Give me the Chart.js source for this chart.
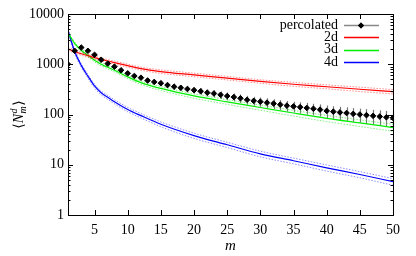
<!DOCTYPE html>
<html>
<head>
<meta charset="utf-8">
<script src="https://cdn.jsdelivr.net/npm/chart.js@4.4.0/dist/chart.umd.min.js"></script>
<style>
  html, body { margin: 0; padding: 0; background: #fff; }
  #wrap { width: 416px; height: 256px; }
</style>
</head>
<body>
<div id="wrap"><canvas id="chart" width="416" height="256"></canvas></div>
<script>
// percolated averages, m = 1..50
const mPerc = [1,2,3,4,5,6,7,8,9,10,11,12,13,14,15,16,17,18,19,20,21,22,23,24,25,
               26,27,28,29,30,31,32,33,34,35,36,37,38,39,40,41,42,43,44,45,46,47,48,49,50];
const percolated = [1000,1850,2150,1850,1540,1230,1030,895,760,660,585,540,475,445,420,385,358,340,322,305,
                    290,272,262,246,233,222,210,196,187,180,172,165,157,150,145,140,135,130,125,118,
                    114,110,107,103,100,97,94,91,88,86];
// relative error of each percolated point
const percErr = [0.02,0.03,0.03,0.03,0.04,0.05,0.05,0.06,0.07,0.08,0.08,0.09,0.1,0.1,0.11,0.12,0.12,0.13,0.14,0.14,
                 0.15,0.16,0.16,0.17,0.18,0.18,0.19,0.2,0.2,0.21,0.22,0.22,0.23,0.24,0.24,0.25,0.26,0.26,0.27,0.28,
                 0.28,0.29,0.3,0.3,0.31,0.32,0.32,0.33,0.34,0.34];

// lattice curves, read at these m
const mFit = [1,2,3,4,5,6,7,8,10,12,15,20,25,30,35,40,45,50];
const fit2d = [2000,1800,1620,1480,1350,1250,1160,1080,940,820,715,615,530,455,400,357,318,285];
const fit3d = [4200,2600,1900,1500,1200,1000,870,760,560,430,330,234,178,138,107,84,68,55];
const fit4d = [4700,1800,950,580,370,270,220,180,126,95,64,38,25,16.5,12,8.7,6.4,4.6];
// relative width of the dotted bands
const err2d = [0.07,0.07,0.07,0.07,0.07,0.07,0.07,0.07,0.07,0.07,0.08,0.08,0.08,0.08,0.09,0.09,0.1,0.1];
const err3d = [0.06,0.06,0.06,0.06,0.07,0.07,0.07,0.07,0.08,0.08,0.09,0.1,0.11,0.12,0.13,0.14,0.15,0.16];
const err4d = [0.08,0.08,0.08,0.08,0.09,0.09,0.09,0.09,0.1,0.1,0.11,0.12,0.12,0.13,0.13,0.14,0.14,0.15];

const xTicks = [5,10,15,20,25,30,35,40,45,50];
const yTicks = [1,10,100,1000,10000];

const FONT = "'Liberation Serif', 'DejaVu Serif', serif";

function pts(xs, ys) { return xs.map((x, i) => ({ x: x, y: ys[i] })); }
function band(ys, errs, sign) { return ys.map((v, i) => v * (1 + sign * errs[i])); }

function curve(label, ys, color) {
    return {
        label: label, data: pts(mFit, ys), borderColor: color, borderWidth: 1.2,
        pointRadius: 0, cubicInterpolationMode: 'monotone', fill: false
    };
}
function dotted(ys, color) {
    return {
        label: '', data: pts(mFit, ys), borderColor: color, borderWidth: 1,
        borderDash: [1.5, 1.5], pointRadius: 0, cubicInterpolationMode: 'monotone',
        fill: false, inLegend: false
    };
}

const datasets = [
    {
        label: 'percolated', data: pts(mPerc, percolated), showLine: false,
        pointStyle: 'rectRot', pointRadius: 2.8, pointBackgroundColor: '#000',
        pointBorderColor: '#000', borderColor: '#000', legendLine: '#888'
    },
    curve('2d', fit2d, '#ff0000'),
    dotted(band(fit2d, err2d, 1), 'rgba(255,0,0,0.45)'),
    dotted(band(fit2d, err2d, -1), 'rgba(255,0,0,0.45)'),
    curve('3d', fit3d, '#00ee00'),
    dotted(band(fit3d, err3d, 1), 'rgba(0,230,0,0.5)'),
    dotted(band(fit3d, err3d, -1), 'rgba(0,230,0,0.5)'),
    curve('4d', fit4d, '#0000ff'),
    dotted(band(fit4d, err4d, 1), 'rgba(0,0,255,0.45)'),
    dotted(band(fit4d, err4d, -1), 'rgba(0,0,255,0.45)')
];

// frame, inward ticks, error bars, legend and the y title
const gnuplotLook = {
    id: 'gnuplotLook',
    beforeDatasetsDraw(chart) {
        const { ctx, scales: { x, y } } = chart;
        ctx.save();
        ctx.strokeStyle = '#777';
        ctx.lineWidth = 1.2;
        mPerc.forEach((m, i) => {
            const px = Math.round(x.getPixelForValue(m)) + 0.5;
            const v = percolated[i], e = percErr[i] * v;
            ctx.beginPath();
            ctx.moveTo(px, y.getPixelForValue(v + e));
            ctx.lineTo(px, y.getPixelForValue(v - e));
            ctx.stroke();
        });
        ctx.restore();
    },
    afterDraw(chart) {
        const { ctx, chartArea: a, scales: { x, y } } = chart;
        ctx.save();
        ctx.strokeStyle = '#000';
        ctx.lineWidth = 1;
        ctx.strokeRect(a.left + 0.5, a.top + 0.5, a.right - a.left, a.bottom - a.top);

        ctx.beginPath();
        xTicks.forEach(v => {
            const px = Math.round(x.getPixelForValue(v)) + 0.5;
            ctx.moveTo(px, a.bottom); ctx.lineTo(px, a.bottom - 5);
            ctx.moveTo(px, a.top); ctx.lineTo(px, a.top + 5);
        });
        for (let d = 1; d <= 10000; d *= 10) {
            for (let k = 1; k <= 9; k++) {
                const v = d * k;
                if (v > 10000) break;
                const py = Math.round(y.getPixelForValue(v)) + 0.5;
                const len = k === 1 ? 5 : 2.5;
                ctx.moveTo(a.left, py); ctx.lineTo(a.left + len, py);
                ctx.moveTo(a.right, py); ctx.lineTo(a.right - len, py);
            }
        }
        ctx.stroke();

        // legend
        ctx.font = '14px ' + FONT;
        ctx.textAlign = 'right';
        ctx.textBaseline = 'middle';
        let row = 0;
        chart.data.datasets.forEach(ds => {
            if (ds.inLegend === false) return;
            const ly = 25 + row * 12.3;
            ctx.fillStyle = '#000';
            ctx.fillText(ds.label, 338, ly);
            ctx.beginPath();
            ctx.strokeStyle = ds.legendLine || ds.borderColor;
            ctx.lineWidth = 1.5;
            ctx.moveTo(344, Math.round(ly) + 0.5);
            ctx.lineTo(379, Math.round(ly) + 0.5);
            ctx.stroke();
            if (ds.pointStyle) {
                Chart.helpers.drawPoint(ctx, { pointStyle: ds.pointStyle, radius: 3, borderWidth: 0 }, 361, Math.round(ly) + 0.5);
                ctx.fillStyle = '#000';
                ctx.fill();
            }
            row++;
        });

        // y axis title <N_m^d>
        ctx.translate(19, (a.top + a.bottom) / 2);
        ctx.rotate(-Math.PI / 2);
        ctx.textAlign = 'left';
        ctx.fillStyle = '#000';
        const big = '14px ' + FONT, bigI = 'italic 14px ' + FONT, small = 'italic 10px ' + FONT;
        ctx.font = big; const w1 = ctx.measureText('\u27E8').width;
        ctx.font = bigI; const w2 = ctx.measureText('N').width;
        ctx.font = small; const w3 = Math.max(ctx.measureText('d').width, ctx.measureText('m').width);
        ctx.font = big; const w4 = ctx.measureText('\u27E9').width;
        let cx = -(w1 + w2 + w3 + 1 + w4) / 2;
        ctx.font = big; ctx.fillText('\u27E8', cx, 0); cx += w1;
        ctx.font = bigI; ctx.fillText('N', cx, 0); cx += w2 + 0.5;
        ctx.font = small; ctx.fillText('d', cx, -5); ctx.fillText('m', cx, 4); cx += w3 + 0.5;
        ctx.font = big; ctx.fillText('\u27E9', cx, 0);
        ctx.restore();
    }
};

new Chart(document.getElementById('chart'), {
    type: 'line',
    data: { datasets: datasets },
    options: {
        responsive: false,
        animation: false,
        layout: { padding: { left: 0, right: 23, top: 14, bottom: 0 } },
        scales: {
            x: {
                type: 'linear', min: 1, max: 50,
                grid: { display: false, drawTicks: false },
                border: { display: false },
                afterBuildTicks: s => { s.ticks = xTicks.map(v => ({ value: v })); },
                ticks: { color: '#000', padding: 7, maxRotation: 0, font: { family: FONT, size: 14 } },
                title: { display: true, text: 'm', color: '#000', padding: { top: 0, bottom: 1 },
                         font: { family: FONT, size: 15, style: 'italic' } },
                afterFit: s => { s.height = 41; }
            },
            y: {
                type: 'logarithmic', min: 1, max: 10000,
                grid: { display: false, drawTicks: false },
                border: { display: false },
                afterBuildTicks: s => { s.ticks = yTicks.map(v => ({ value: v })); },
                ticks: { color: '#000', padding: 4, font: { family: FONT, size: 14 },
                         callback: v => String(v) },
                afterFit: s => { s.width = 68; }
            }
        },
        plugins: { legend: { display: false }, tooltip: { enabled: false } }
    },
    plugins: [gnuplotLook]
});
</script>
</body>
</html>
